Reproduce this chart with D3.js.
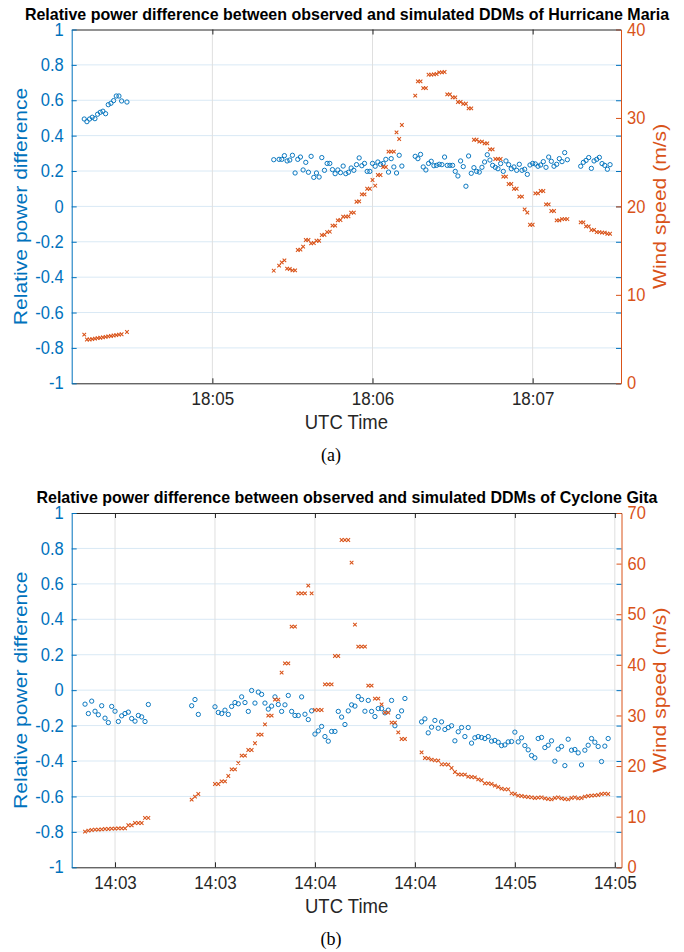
<!DOCTYPE html>
<html>
<head>
<meta charset="utf-8">
<script src="https://cdn.jsdelivr.net/npm/d3@7"></script>
<style>
  html, body { margin: 0; padding: 0; background: #fff; }
  svg { display: block; font-family: "Liberation Sans", Arial, Helvetica, sans-serif; }
</style>
</head>
<body>
<svg id="chart" width="684" height="952"></svg>
<script>
// ---------------- Hurricane Maria (panel a) ----------------
// sample times, seconds after 18:04:00 UTC
const mariaBase = "18:04:00";
const mariaRange = ["18:04:07.300", "18:07:33.100"];
const mariaTicks = ["18:05:00", "18:06:00", "18:07:00"];
const mariaSeconds = [
  12, 13, 14, 15, 16, 17, 18, 19, 20, 21, 22, 23, 24, 25, 26, 28,
  83, 85, 86, 87, 88, 89, 90, 91, 92, 93, 94, 95, 96, 97, 98, 99, 100,
  101, 102, 103, 104, 105, 106, 107, 108, 109, 110, 111, 112, 113, 114, 115,
  116, 117, 118, 119, 120, 121, 122, 123, 124, 125, 126, 127, 128, 129, 130, 131,
  136, 137, 138, 139, 140, 141, 142, 143, 144, 145, 146, 147, 148, 149, 150,
  151, 152, 153, 154, 155, 156, 157, 158, 159, 160, 161, 162, 163, 164, 165,
  166, 167, 168, 169, 170, 171, 172, 173, 174, 175, 176, 177, 178, 179, 180,
  181, 182, 183, 184, 185, 186, 187, 188, 189, 190, 191, 192, 193,
  198, 199, 200, 201, 202, 203, 204, 205, 206, 207, 208, 209
];
// relative power difference (observed vs simulated DDM)
const mariaPowerDiff = [
  0.494, 0.479, 0.494, 0.504, 0.496, 0.521, 0.532, 0.538, 0.524, 0.575, 0.583, 0.598, 0.624, 0.624, 0.596, 0.590,
  0.264, 0.266, 0.266, 0.287, 0.257, 0.262, 0.289, 0.189, 0.266, 0.279, 0.206, 0.249, 0.193, 0.283, 0.164, 0.189, 0.166,
  0.276, 0.204, 0.243, 0.243, 0.208, 0.185, 0.206, 0.191, 0.228, 0.185, 0.193, 0.217, 0.204, 0.236, 0.274,
  0.230, 0.243, 0.198, 0.198, 0.243, 0.227, 0.251, 0.238, 0.243, 0.266, 0.194, 0.270, 0.223, 0.189, 0.289, 0.228,
  0.283, 0.270, 0.294, 0.223, 0.206, 0.243, 0.255, 0.230, 0.232, 0.238, 0.236, 0.279, 0.232, 0.232, 0.232,
  0.198, 0.172, 0.257, 0.225, 0.114, 0.285, 0.187, 0.219, 0.198, 0.194, 0.221, 0.251, 0.292, 0.262, 0.232,
  0.221, 0.213, 0.242, 0.198, 0.257, 0.236, 0.213, 0.223, 0.204, 0.238, 0.204, 0.210, 0.181, 0.234, 0.243,
  0.240, 0.227, 0.234, 0.253, 0.221, 0.279, 0.255, 0.227, 0.238, 0.270, 0.253, 0.304, 0.264,
  0.227, 0.249, 0.260, 0.276, 0.215, 0.257, 0.266, 0.277, 0.242, 0.232, 0.210, 0.236
];
// wind speed (m/s)
const mariaWind = [
  5.50, 4.95, 4.95, 5.00, 5.05, 5.10, 5.15, 5.20, 5.25, 5.30, 5.35, 5.40, 5.45, 5.50, 5.55, 5.80,
  12.73, 13.30, 13.67, 13.90, 12.96, 12.92, 12.77, 12.77, 15.07, 15.11, 15.45, 16.20, 16.20, 15.82, 15.86, 16.12, 16.12,
  16.76, 16.80, 17.10, 17.14, 17.82, 17.82, 18.42, 18.46, 18.84, 18.84, 18.88, 19.29, 19.29, 20.53, 20.57,
  21.36, 21.36, 22.00, 22.00, 22.98, 22.34, 23.55, 23.55, 24.45, 24.45, 26.19, 26.19, 26.19, 28.37, 27.62, 29.20,
  32.52, 34.14, 34.14, 33.38, 33.38, 34.89, 34.89, 34.93, 34.97, 35.16, 35.16, 35.19, 32.67, 32.67, 32.33,
  32.33, 31.80, 31.80, 31.61, 31.61, 31.09, 31.09, 27.54, 27.54, 27.32, 27.32, 27.13, 27.13, 26.45, 26.45,
  25.36, 25.36, 25.36, 23.36, 23.36, 22.53, 22.53, 22.00, 22.00, 21.10, 21.10, 19.67, 19.29, 17.93, 17.93,
  21.48, 21.48, 21.74, 21.74, 20.23, 20.23, 19.48, 19.48, 18.42, 18.42, 18.57, 18.57, 18.57,
  18.19, 18.19, 17.74, 17.74, 17.33, 17.33, 17.10, 17.10, 17.03, 17.03, 16.91, 16.91
];

// ---------------- Cyclone Gita (panel b) ----------------
// sample times, seconds after 14:02:00 UTC
const gitaBase = "14:02:00";
const gitaRange = ["14:02:47.000", "14:05:32.000"];
const gitaTicks = ["14:03:00", "14:03:30", "14:04:00", "14:04:30", "14:05:00", "14:05:30"];
const gitaSeconds = [
  51, 52, 53, 54, 55, 56, 57, 58, 59, 60, 61, 62, 63, 64, 65, 66, 67, 68, 69, 70,
  83, 84, 85,
  90, 91, 92, 93, 94, 95, 96, 97, 98, 99, 100, 101, 102, 103, 104, 105, 106, 107, 108, 109, 110,
  111, 112, 113, 114, 115, 116, 117, 118, 119, 120, 121, 122, 123, 124, 125, 126, 127, 128, 129, 130,
  131, 132, 133, 134, 135, 136, 137, 138, 139, 140, 141, 142, 143, 144, 145, 146, 147,
  152, 153, 154, 155, 156, 157, 158, 159, 160, 161, 162, 163, 164, 165, 166, 167, 168, 169, 170,
  171, 172, 173, 174, 175, 176, 177, 178, 179, 180, 181, 182, 183, 184, 185, 186, 187, 188, 189, 190,
  191, 192, 193, 194, 195, 196, 197, 198, 199, 200, 201, 202, 203, 204, 205, 206, 207, 208
];
const gitaPowerDiff = [
  -0.079, -0.132, -0.062, -0.119, -0.139, -0.088, -0.158, -0.183, -0.092, -0.119, -0.177, -0.145, -0.132, -0.124, -0.160, -0.175, -0.143, -0.151, -0.177, -0.081,
  -0.088, -0.053, -0.137,
  -0.094, -0.126, -0.132, -0.113, -0.137, -0.092, -0.070, -0.077, -0.038, -0.070, -0.120, -0.002, -0.073, -0.011, -0.024, -0.073, -0.107, -0.090, -0.038, -0.081, -0.120,
  -0.083, -0.030, -0.120, -0.143, -0.143, -0.038, -0.136, -0.166, -0.117, -0.248, -0.230, -0.205, -0.262, -0.288, -0.233, -0.233, -0.120, -0.152, -0.194, -0.117,
  -0.083, -0.090, -0.036, -0.053, -0.119, -0.058, -0.120, -0.149, -0.104, -0.104, -0.128, -0.113, -0.058, -0.201, -0.149, -0.117, -0.047,
  -0.179, -0.162, -0.241, -0.209, -0.171, -0.215, -0.179, -0.222, -0.211, -0.201, -0.286, -0.235, -0.211, -0.262, -0.211, -0.299, -0.269, -0.262, -0.267,
  -0.273, -0.262, -0.288, -0.284, -0.294, -0.313, -0.309, -0.292, -0.290, -0.237, -0.292, -0.269, -0.313, -0.337, -0.369, -0.382, -0.273, -0.267, -0.324, -0.311,
  -0.286, -0.401, -0.333, -0.318, -0.426, -0.277, -0.339, -0.335, -0.354, -0.422, -0.339, -0.311, -0.273, -0.294, -0.318, -0.403, -0.316, -0.273
];
const gitaWind = [
  7.04, 7.24, 7.37, 7.44, 7.44, 7.50, 7.57, 7.57, 7.64, 7.64, 7.70, 7.70, 7.70, 8.30, 8.30, 8.76, 8.76, 8.76, 9.75, 9.75,
  13.37, 13.96, 14.49,
  16.46, 16.46, 16.99, 16.99, 18.04, 19.36, 19.36, 20.61, 22.06, 22.06, 23.18, 23.18, 24.50, 26.21, 26.21, 28.25, 29.96, 29.96, 33.12, 33.12, 38.46,
  40.30, 40.30, 47.55, 47.55, 54.13, 54.13, 54.13, 55.65, 54.13, 31.08, 31.08, 31.08, 36.15, 36.15, 36.15, 41.75, 41.75, 64.67, 64.67, 64.67,
  60.19, 47.94, 43.59, 43.59, 43.59, 35.89, 35.89, 33.32, 33.32, 32.20, 30.55, 30.55, 28.58, 28.58, 26.67, 25.35, 25.35,
  22.72, 21.60, 21.53, 21.27, 21.14, 21.07, 20.35, 20.35, 20.28, 19.62, 18.83, 18.37, 18.31, 18.31, 17.91, 17.84, 17.78, 17.38, 17.19,
  16.59, 16.59, 16.46, 16.13, 15.87, 15.54, 15.41, 15.41, 14.62, 14.49, 14.16, 14.09, 13.96, 13.89, 13.83, 13.69, 13.76, 13.83, 13.63, 13.50,
  13.43, 13.69, 13.83, 13.63, 13.50, 13.43, 13.69, 13.83, 13.63, 13.69, 13.96, 14.09, 14.16, 14.22, 14.29, 14.49, 14.55, 14.49
];

// ---------------- shared axis ticks ----------------
const powerTicks = [-1, -0.8, -0.6, -0.4, -0.2, 0, 0.2, 0.4, 0.6, 0.8, 1];
const powerTickLabels = ["-1", "-0.8", "-0.6", "-0.4", "-0.2", "0", "0.2", "0.4", "0.6", "0.8", "1"];
const mariaWindTicks = [0, 10, 20, 30, 40];
const gitaWindTicks = [0, 10, 20, 30, 40, 50, 60, 70];

const titles = [
  "Relative power difference between observed and simulated DDMs of Hurricane Maria",
  "Relative power difference between observed and simulated DDMs of Cyclone Gita"
];
const captions = ["(a)", "(b)"];
const xLabel = "UTC Time";
const yLabelLeft = "Relative power difference";
const yLabelRight = "Wind speed (m/s)";

// ---------------- drawing ----------------
const BLUE = "#0072BD";
const ORANGE = "#D95319";
const AXIS = "#262626";
const SANS = "Liberation Sans, Arial, sans-serif";
const parseClock = d3.utcParse("%H:%M:%S");
const parseClockMs = d3.utcParse("%H:%M:%S.%L");
const clockFormat = d3.utcFormat("%H:%M");

const svg = d3.select("#chart");

// glyphs of this figure are slightly taller than wide: stretch text vertically about its anchor
function stretchY(sel, s) {
  sel.each(function () {
    const t = d3.select(this);
    const x = +t.attr("x") || 0, y = +t.attr("y") || 0;
    t.attr("transform", `translate(${x},${y}) scale(1,${s}) translate(${-x},${-y})`);
  });
}

function drawPanel(p) {
  const { top, bottom, left, right } = p.box;
  const base = parseClock(p.base).getTime();
  const times = p.seconds.map(s => new Date(base + s * 1000));

  const x = d3.scaleUtc()
    .domain(p.range.map(parseClockMs))
    .range([left, right]);
  const yL = d3.scaleLinear().domain([-1, 1]).range([bottom, top]);
  const yR = d3.scaleLinear().domain([0, d3.max(p.windTicks)]).range([bottom, top]);
  const xTicks = p.ticks.map(parseClock);

  const g = svg.append("g");

  // grid
  g.append("g").selectAll("line").data(powerTicks.slice(1, -1)).join("line")
    .attr("x1", left).attr("x2", right)
    .attr("y1", d => yL(d)).attr("y2", d => yL(d))
    .attr("stroke", "#d9e9f5").attr("stroke-width", 1);
  g.append("g").selectAll("line").data(xTicks).join("line")
    .attr("x1", d => x(d)).attr("x2", d => x(d))
    .attr("y1", top).attr("y2", bottom)
    .attr("stroke", "#dfdfdf").attr("stroke-width", 1);

  // relative power difference markers (circles)
  g.append("g").selectAll("circle")
    .data(p.seconds.map((s, i) => ({ t: times[i], v: p.power[i] })).filter(d => d.v != null))
    .join("circle")
    .attr("cx", d => x(d.t)).attr("cy", d => yL(d.v)).attr("r", 2.15)
    .attr("fill", "none").attr("stroke", BLUE).attr("stroke-width", 0.95);

  // wind speed markers (crosses)
  const s = 1.8;
  g.append("g").selectAll("path")
    .data(p.seconds.map((sec, i) => ({ t: times[i], w: p.wind[i] })).filter(d => d.w != null))
    .join("path")
    .attr("transform", d => `translate(${x(d.t)},${yR(d.w)})`)
    .attr("d", `M${-s},${-s}L${s},${s}M${-s},${s}L${s},${-s}`)
    .attr("fill", "none").attr("stroke", ORANGE).attr("stroke-width", 1.05);

  // axes
  const bottomAxis = g.append("g").attr("transform", `translate(0,${bottom})`)
    .call(d3.axisBottom(x).tickValues(xTicks).tickFormat(clockFormat)
      .tickSizeInner(-5).tickSizeOuter(0).tickPadding(9));
  bottomAxis.select(".domain").attr("stroke", AXIS);
  bottomAxis.selectAll(".tick line").attr("stroke", AXIS);
  bottomAxis.selectAll("text").attr("fill", AXIS).attr("font-size", 17).attr("font-family", SANS)
    .call(stretchY, 1.06);

  const topAxis = g.append("g").attr("transform", `translate(0,${top})`)
    .call(d3.axisTop(x).tickValues(xTicks).tickFormat("").tickSizeInner(-5).tickSizeOuter(0));
  topAxis.select(".domain").attr("stroke", AXIS);
  topAxis.selectAll(".tick line").attr("stroke", AXIS);

  const leftAxis = g.append("g").attr("transform", `translate(${left},0)`)
    .call(d3.axisLeft(yL).tickValues(powerTicks).tickFormat((d, i) => powerTickLabels[i])
      .tickSizeInner(-5).tickSizeOuter(0).tickPadding(8));
  leftAxis.select(".domain").attr("stroke", BLUE);
  leftAxis.selectAll(".tick line").attr("stroke", BLUE);
  leftAxis.selectAll("text").attr("fill", BLUE).attr("font-size", 16.5).attr("font-family", SANS)
    .call(stretchY, 1.06);

  const rightMirror = g.append("g").attr("transform", `translate(${right},0)`)
    .call(d3.axisRight(yL).tickValues(powerTicks).tickFormat("").tickSizeInner(-5).tickSizeOuter(0));
  rightMirror.select(".domain").remove();
  rightMirror.selectAll(".tick line").attr("stroke", BLUE);

  const rightAxis = g.append("g").attr("transform", `translate(${right},0)`)
    .call(d3.axisRight(yR).tickValues(p.windTicks).tickFormat(d3.format("d"))
      .tickSizeInner(-5).tickSizeOuter(0).tickPadding(6));
  rightAxis.select(".domain").attr("stroke", ORANGE);
  rightAxis.selectAll(".tick line").attr("stroke", ORANGE);
  rightAxis.selectAll("text").attr("fill", ORANGE).attr("font-size", 16.5).attr("font-family", SANS)
    .call(stretchY, 1.06);

  // labels
  g.append("text").attr("x", 347).attr("y", top - 9.5)
    .attr("text-anchor", "middle").attr("font-weight", "bold").attr("font-size", 16)
    .attr("fill", "#000").text(p.title)
    .call(stretchY, 1.08);

  g.append("text").attr("x", (left + right) / 2).attr("y", bottom + 45.5)
    .attr("text-anchor", "middle").attr("font-size", 18.5).attr("fill", AXIS).text(xLabel)
    .call(stretchY, 1.14);

  g.append("text").attr("transform", `translate(27,${(top + bottom) / 2}) rotate(-90) scale(1.14,1)`)
    .attr("text-anchor", "middle").attr("font-size", 18.5).attr("fill", BLUE).text(yLabelLeft);

  g.append("text").attr("transform", `translate(666,${(top + bottom) / 2}) rotate(-90) scale(1.14,1)`)
    .attr("text-anchor", "middle").attr("font-size", 18.5).attr("fill", ORANGE).text(yLabelRight);

  g.append("text").attr("x", 331).attr("y", bottom + 78)
    .attr("text-anchor", "middle").attr("font-size", 18)
    .attr("font-family", "Liberation Serif, Times New Roman, serif")
    .attr("fill", "#000").text(p.caption);
}

drawPanel({
  box: { top: 29.5, bottom: 383.3, left: 71.7, right: 621 },
  base: mariaBase, range: mariaRange, ticks: mariaTicks,
  seconds: mariaSeconds, power: mariaPowerDiff, wind: mariaWind,
  windTicks: mariaWindTicks, title: titles[0], caption: captions[0]
});

drawPanel({
  box: { top: 513, bottom: 867.3, left: 71.7, right: 621.5 },
  base: gitaBase, range: gitaRange, ticks: gitaTicks,
  seconds: gitaSeconds, power: gitaPowerDiff, wind: gitaWind,
  windTicks: gitaWindTicks, title: titles[1], caption: captions[1]
});
</script>
</body>
</html>
